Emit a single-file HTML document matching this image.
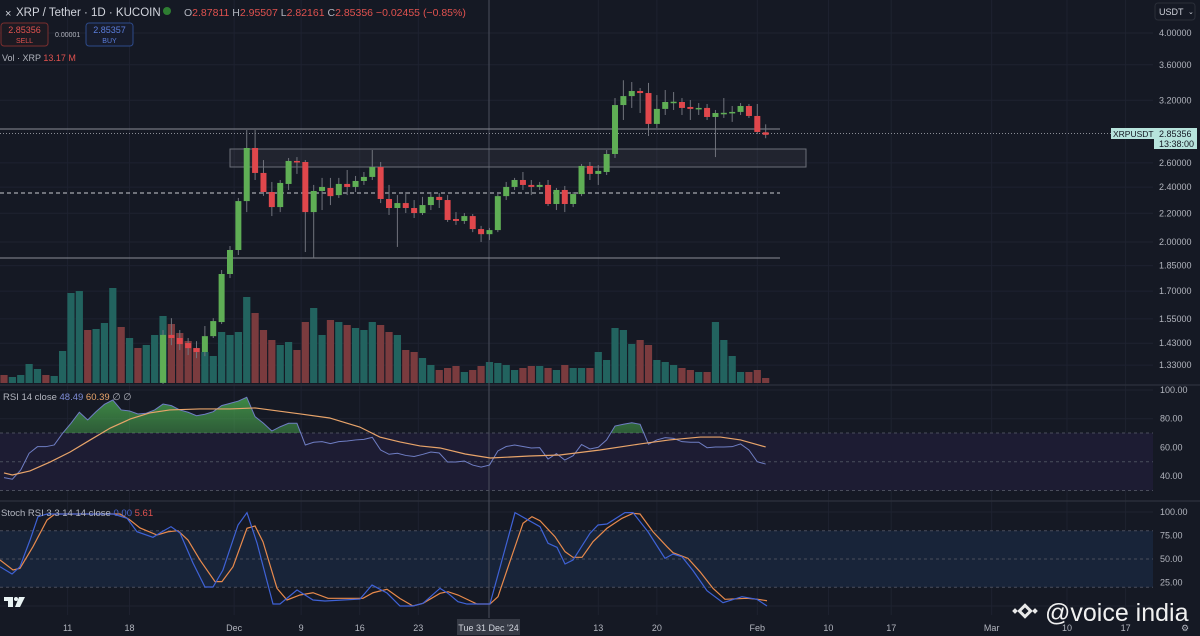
<!DOCTYPE html>
<html><head><meta charset="utf-8"><style>
html,body{margin:0;padding:0;background:#151924;width:1200px;height:636px;overflow:hidden}
svg{display:block;font-family:"Liberation Sans",sans-serif}
</style></head><body>
<svg id="c" width="1200" height="636" viewBox="0 0 1200 636">
<defs>
<linearGradient id="gf" x1="0" y1="0" x2="0" y2="1"><stop offset="0" stop-color="#4caf50" stop-opacity="0.75"/><stop offset="1" stop-color="#4caf50" stop-opacity="0.05"/></linearGradient>
<clipPath id="cp"><rect x="0" y="0" width="1153" height="384"/></clipPath>
<clipPath id="c70"><rect x="0" y="386" width="1153" height="47"/></clipPath>
</defs>
<rect x="0" y="0" width="1200" height="636" fill="#151924"/>
<g id="grid"></g>
<g id="bands"></g>
<g id="vol" clip-path="url(#cp)"></g>
<g id="draw"></g>
<g id="candles" clip-path="url(#cp)"></g>
<g id="rsi"></g>
<g id="stoch"></g>
<g id="axes"></g>
<!-- header -->
<g>
<text x="5" y="17" fill="#d1d4dc" font-size="11">×</text>
<text x="16" y="16" fill="#d1d4dc" font-size="11.5">XRP / Tether · 1D · KUCOIN</text>
<circle cx="167" cy="11" r="4" fill="#2e7d32"/>
<text x="184" y="16" font-size="10.5"><tspan fill="#b2b5be">O</tspan><tspan fill="#e0524f">2.87811</tspan><tspan fill="#b2b5be"> H</tspan><tspan fill="#e0524f">2.95507</tspan><tspan fill="#b2b5be"> L</tspan><tspan fill="#e0524f">2.82161</tspan><tspan fill="#b2b5be"> C</tspan><tspan fill="#e0524f">2.85356 −0.02455 (−0.85%)</tspan></text>
</g>
<g><rect x="1" y="23" width="47" height="23" rx="3" fill="#1c1a22" stroke="#7a2e2e"/><text x="24.5" y="33" font-size="9" fill="#e0524f" text-anchor="middle">2.85356</text><text x="24.5" y="43" font-size="7" fill="#e0524f" text-anchor="middle">SELL</text></g>
<text x="55" y="37" font-size="7" fill="#b2b5be">0.00001</text>
<g><rect x="86" y="23" width="47" height="23" rx="3" fill="#171c2c" stroke="#2d4a8a"/><text x="109.5" y="33" font-size="9" fill="#5b7ddb" text-anchor="middle">2.85357</text><text x="109.5" y="43" font-size="7" fill="#5b7ddb" text-anchor="middle">BUY</text></g>
<text x="2" y="61" font-size="9"><tspan fill="#b2b5be">Vol · XRP </tspan><tspan fill="#e0524f"> 13.17 M</tspan></text>
<text x="3" y="400" font-size="9.5"><tspan fill="#b2b5be">RSI 14 close </tspan><tspan fill="#7e8cd6"> 48.49 </tspan><tspan fill="#e8a46a">60.39 </tspan><tspan fill="#b2b5be">∅ ∅</tspan></text>
<text x="1" y="516" font-size="9.5"><tspan fill="#b2b5be">Stoch RSI 3 3 14 14 close </tspan><tspan fill="#4a64c8"> 0.00 </tspan><tspan fill="#e0524f">5.61</tspan></text>
<g><rect x="1155" y="3" width="40" height="17" rx="3" fill="#151924" stroke="#2a2e39"/><text x="1159" y="15" font-size="9" fill="#d1d4dc">USDT</text><text x="1188" y="14" font-size="7" fill="#d1d4dc">⌄</text></g>
<g fill="#e9f3f3"><rect x="4" y="597" width="9" height="4"/><rect x="8" y="597" width="5" height="10"/><circle cx="16" cy="599" r="2"/><polygon points="19,597 25,597 20,607 15,607"/></g>
<g><g transform="translate(1025,611)" fill="#e8e8e8"><rect x="-4" y="-4" width="8" height="8" transform="rotate(45)" fill="none" stroke="#e8e8e8" stroke-width="3"/><rect x="-12" y="-2" width="4" height="4" transform="rotate(45 -10 0)"/><rect x="8" y="-2" width="4" height="4" transform="rotate(45 10 0)"/></g><text x="1045" y="621" font-size="25" fill="#f0f0f0">@voice india</text></g>
</svg>
<script>
// ---------- data ----------
const candleOpen=[0.52,0.51,0.53,0.55,0.58,0.62,0.60,0.64,0.70,0.78,0.88,0.82,0.95,1.05,1.15,1.08,1.12,1.10,1.14,
1.254,1.470,1.455,1.431,1.407,1.389,1.464,1.534,1.799,1.948,2.291,2.732,2.515,2.361,2.246,2.425,2.617,2.608,2.209,2.369,2.393,2.337,2.425,2.401,2.449,2.482,2.565,2.307,2.239,2.276,2.239,2.202,2.261,2.323,2.299,2.159,2.145,2.180,2.088,2.053,2.081,2.329,2.401,2.457,2.417,2.401,2.417,2.269,2.377,2.269,2.345,2.574,2.507,2.523,2.678,3.150,3.245,3.300,3.278,2.959,3.110,3.182,3.182,3.130,3.110,3.120,3.028,3.068,3.068,3.079,3.140,3.038,2.878];
const candleHigh=[0.54,0.54,0.56,0.59,0.63,0.64,0.65,0.72,0.80,0.90,0.92,0.97,1.07,1.18,1.17,1.15,1.14,1.16,1.22,
1.494,1.554,1.494,1.455,1.440,1.514,1.554,1.823,1.974,2.315,2.900,2.900,2.625,2.441,2.457,2.643,2.651,2.625,2.417,2.474,2.474,2.474,2.540,2.490,2.523,2.714,2.608,2.417,2.337,2.361,2.299,2.323,2.361,2.353,2.337,2.209,2.202,2.195,2.110,2.096,2.345,2.441,2.474,2.523,2.457,2.441,2.457,2.393,2.409,2.361,2.591,2.608,2.582,2.714,3.224,3.420,3.400,3.333,3.390,3.256,3.311,3.289,3.224,3.203,3.171,3.161,3.099,3.224,3.140,3.171,3.161,3.161,2.955];
const candleLow=[0.49,0.49,0.51,0.53,0.56,0.58,0.58,0.62,0.68,0.76,0.80,0.80,0.92,1.02,1.05,1.05,1.06,1.07,1.10,
1.225,1.421,1.398,1.375,1.361,1.370,1.455,1.524,1.775,1.916,2.209,2.457,2.331,2.180,2.209,2.377,2.507,1.935,1.897,2.224,2.261,2.315,2.337,2.361,2.417,2.457,2.276,2.188,1.968,2.202,2.166,2.188,2.224,2.239,2.138,2.117,2.124,2.067,2.000,2.014,2.067,2.299,2.377,2.377,2.337,2.377,2.254,2.224,2.209,2.246,2.329,2.457,2.417,2.498,2.643,2.998,3.120,3.068,2.843,2.919,3.048,3.099,3.048,2.998,3.048,2.998,2.651,3.018,2.979,3.048,3.018,2.862,2.822];
const candleClose=[0.51,0.53,0.55,0.58,0.62,0.60,0.64,0.70,0.78,0.88,0.82,0.95,1.05,1.15,1.08,1.12,1.10,1.14,1.18,
1.470,1.455,1.426,1.407,1.389,1.464,1.539,1.799,1.948,2.291,2.732,2.515,2.361,2.246,2.433,2.617,2.608,2.209,2.369,2.401,2.329,2.425,2.401,2.449,2.482,2.565,2.307,2.239,2.276,2.239,2.202,2.261,2.323,2.299,2.152,2.145,2.180,2.088,2.053,2.081,2.329,2.401,2.457,2.417,2.401,2.417,2.269,2.377,2.269,2.345,2.574,2.507,2.532,2.678,3.150,3.245,3.300,3.278,2.959,3.110,3.182,3.185,3.120,3.110,3.120,3.028,3.068,3.070,3.079,3.140,3.038,2.881,2.854];
const volumeM=[16,12,16,38,28,16,14,64,180,184,106,108,120,190,112,90,70,76,96,134,118,100,84,70,62,54,102,96,102,172,140,106,86,76,82,66,122,150,96,126,122,116,110,106,122,116,102,96,66,62,50,36,26,30,34,22,26,34,42,40,36,26,30,34,34,30,26,36,30,30,30,62,46,110,106,78,86,76,46,42,36,30,26,22,22,122,86,54,22,22,26,10];
const rsiValues=[38.9,37.8,44.3,55.9,60.5,60.5,61.7,69.8,76.8,84.5,79.1,84.9,90.0,93.0,86.1,85.4,83.3,83.8,86.1,90.2,89.1,86.1,84.5,82.1,83.1,84.9,89.1,90.7,92.3,94.9,81.4,76.8,71.4,74.4,76.8,76.8,61.7,63.6,64.0,62.6,64.0,64.5,65.2,65.6,67.0,58.2,55.2,55.9,54.4,53.7,55.1,56.8,56.1,49.8,49.8,50.5,47.7,46.3,47.7,57.5,60.6,61.7,60.6,59.6,59.8,51.9,55.7,51.2,54.2,62.0,58.9,60.1,65.2,74.9,76.1,77.2,76.1,62.2,65.2,66.8,66.3,64.0,63.6,63.6,59.8,60.3,60.3,60.5,62.4,58.2,50.0,48.4];
const rsiMaIdx=[0,1,3.1,5.5,7.9,10.3,12.7,15.1,17.4,19.8,23.4,27,30,31.8,35.4,38.9,42.5,44.9,47.3,49.7,52.1,55.1,58.1,62.8,66.4,71.2,76,79.5,83.2,85.6,88,91];
const rsiMaVal=[42.2,40.8,43.6,49.8,56.8,65.2,73.5,79.8,84.0,86.1,86.8,86.8,87.5,86.1,83.3,80.5,74.2,67.2,63.8,61.0,59.6,55.4,52.6,54.0,54.7,58.2,62.4,65.2,67.2,67.2,65.2,60.3];
const stochKIdx=[-0.48,0.96,1.91,3.11,4.06,5.14,13.02,14.70,15.89,17.80,18.88,19.95,21.03,22.58,24.01,24.97,26.16,27.96,29.03,30.23,32.14,32.97,35.01,36.92,38.35,42.53,43.97,45.76,47.31,48.86,50.06,52.09,53.05,54.24,55.32,58.06,61.05,64.04,65.0,66.07,67.03,67.98,70.01,70.97,72.04,74.19,75.15,76.94,78.97,79.93,81.0,82.32,83.99,85.90,88.17,89.96,91.16];
const stochKVal=[41.8,34.0,41.8,70.2,95.0,97.9,97.9,93.3,79.0,73.1,79.0,84.4,77.7,45.7,20.2,20.2,38.3,86.2,99.3,67.0,2.1,2.1,17.0,6.4,5.3,7.4,22.3,13.8,0,0,2.9,18.8,13.5,4.6,2.1,2.1,99.3,84.4,66.7,62.4,44.7,48.9,77.3,86.2,87.2,99.3,99.3,79.0,50.7,55.3,52.4,37.6,16.3,3.5,9.9,7.1,0];
const stochDIdx=[-0.48,1.08,1.91,3.46,5.14,6.09,13.86,15.05,16.25,18.28,19.59,20.79,21.98,23.42,25.21,26.04,27.36,29.03,29.99,30.94,32.62,33.81,35.36,36.92,38.71,42.89,44.09,45.76,47.31,48.86,50.06,52.09,53.05,54.24,56.51,58.06,59.02,60.10,62.01,63.08,64.04,65.83,67.03,67.98,69.06,70.37,72.04,73.84,75.15,75.99,77.54,79.21,79.93,81.72,83.15,84.71,86.14,88.77,90.08,91.16];
const stochDVal=[48.9,38.3,40.1,63.1,91.5,97.9,97.9,91.5,83.0,75.5,79.0,80.1,70.2,48.9,25.9,25.9,41.8,82.7,85.1,68.4,18.8,6.4,11.7,14.1,8.2,8.2,14.1,17.8,8.0,0,2.9,13.5,15.2,11.7,2.1,2.1,9.9,38.3,88.0,95.0,90.7,73.7,57.8,51.8,51.8,68.4,82.7,93.3,98.6,97.9,79.0,63.1,56.7,50.7,36.5,18.8,7.1,8.2,7.1,5.6];
const priceTicks=["4.00000","3.60000","3.20000","2.60000","2.40000","2.20000","2.00000","1.85000","1.70000","1.55000","1.43000","1.33000"];
const rsiTicks=["100.00","80.00","60.00","40.00"];
const stochTicks=["100.00","75.00","50.00","25.00"];
const dateLabels=["11","18","Dec","9","16","23","13","20","Feb","10","17","Mar","10","17"];
const dateIdx=[7.6,15,27.5,35.5,42.5,49.5,71,78,90,98.5,106,118,127,134];
// ---------- scales ----------
const NS="http://www.w3.org/2000/svg";
const xS=i=>4+i*8.37;
const yP=p=>33+(Math.log(4)-Math.log(p))*301.6;
const yV=v=>383-v/2;
const yR=v=>390+(100-v)*1.435;
const yK=v=>512+(100-v)*0.94;
function mk(parent,tag,attrs){const e=document.createElementNS(NS,tag);for(const k in attrs)e.setAttribute(k,attrs[k]);document.getElementById(parent).appendChild(e);return e;}
// grid
dateIdx.forEach((d,k)=>{const l=mk('grid','line',{x1:xS(d),x2:xS(d),y1:0,y2:615,stroke:'#1e2230','stroke-width':1});

});
priceTicks.forEach(t=>{const l=mk('grid','line',{x1:0,x2:1153,y1:yP(+t),y2:yP(+t),stroke:'#1e2230'});

});
[100,80,60,40].forEach(v=>{const l=mk('grid','line',{x1:0,x2:1153,y1:yR(v),y2:yR(v),stroke:'#1e2230'});

});
[100,75,50,25,0].forEach(v=>{const l=mk('grid','line',{x1:0,x2:1153,y1:yK(v),y2:yK(v),stroke:'#1e2230'});

});
// pane separators
[385,501].forEach(y=>{const l=mk('grid','line',{x1:0,x2:1200,y1:y,y2:y,stroke:'#2a2e39','stroke-width':1.5});

});
// bands
let b=mk('bands','rect',{x:0,y:yR(70),width:1153,height:yR(30)-yR(70),fill:'#1d1c33'});


b=mk('bands','rect',{x:0,y:yK(80),width:1153,height:yK(20)-yK(80),fill:'#182439'});


[[yR,70],[yR,50],[yR,30],[yK,80],[yK,50],[yK,20]].forEach(([f,v])=>{const l=mk('bands','line',{x1:0,x2:1153,y1:f(v),y2:f(v),stroke:'#4a4e5c','stroke-dasharray':'3 3'});

});
// crosshair vertical
let ch=mk('draw','line',{x1:489,x2:489,y1:0,y2:618,stroke:'#4a4e5c','stroke-width':1});


// volume
volumeM.forEach((v,i)=>{const up=candleClose[i]>=candleOpen[i];
const r=mk('vol','rect',{x:xS(i)-3.6,y:yV(v),width:7.2,height:383-yV(v),fill:up?'#22635f':'#7a3b3e'});

});
// drawings
const dl=(a,n)=>{const l=mk('draw','line',a);};
dl({x1:0,x2:780,y1:129,y2:129,stroke:'#8a8d96','stroke-width':1},'resistance-line');
dl({x1:0,x2:780,y1:193,y2:193,stroke:'#c9cbd1','stroke-width':1,'stroke-dasharray':'4 3'},'dashed-level-line');
dl({x1:0,x2:780,y1:258,y2:258,stroke:'#8a8d96','stroke-width':1},'support-line');
dl({x1:0,x2:1111,y1:133.5,y2:133.5,stroke:'#8a8d96','stroke-width':1,'stroke-dasharray':'1 2'},'last-price-line');
let zr=mk('draw','rect',{x:230,y:149,width:576,height:18,fill:'rgba(120,123,134,0.12)',stroke:'#6b6e78','stroke-width':1});


// candles
candleOpen.forEach((o,i)=>{const c=candleClose[i],up=c>=o,col=up?'#5fae55':'#e0474c',x=xS(i);
const w=mk('candles','line',{x1:x,x2:x,y1:yP(candleHigh[i]),y2:yP(candleLow[i]),stroke:'#70737c','stroke-width':1});


const t=Math.min(yP(o),yP(c)),h=Math.max(1.5,Math.abs(yP(o)-yP(c)));
const r=mk('candles','rect',{x:x-3,y:t,width:6,height:h,fill:col});

});
// RSI
const rp=rsiValues.map((v,i)=>xS(i)+','+yR(v)).join(' ');
let fa=mk('rsi','polygon',{points:xS(0)+','+yR(70)+' '+rp+' '+xS(rsiValues.length-1)+','+yR(70),fill:'url(#gf)','clip-path':'url(#c70)'});


let rl=mk('rsi','polyline',{points:rp,fill:'none',stroke:'#6f7ec4','stroke-width':1});


let ml=mk('rsi','polyline',{points:rsiMaIdx.map((d,k)=>xS(d)+','+yR(rsiMaVal[k])).join(' '),fill:'none',stroke:'#e8a46a','stroke-width':1.2});


// Stoch
let dline=mk('stoch','polyline',{points:stochDIdx.map((d,k)=>xS(d)+','+yK(stochDVal[k])).join(' '),fill:'none',stroke:'#e88a4c','stroke-width':1.2});


let kline=mk('stoch','polyline',{points:stochKIdx.map((d,k)=>xS(d)+','+yK(stochKVal[k])).join(' '),fill:'none',stroke:'#3f62d6','stroke-width':1.2});


// axes labels
const tx=(x,y,s,n,anchor,fill,fs)=>{const t=mk('axes','text',{x:x,y:y,'font-size':fs||9,fill:fill||'#b2b5be','text-anchor':anchor||'start'});t.textContent=s;return t;};
priceTicks.forEach(t=>tx(1159,yP(+t)+3,t,'price-tick'));
rsiTicks.forEach(t=>tx(1160,yR(+t)+3,t,'rsi-tick'));
stochTicks.forEach(t=>tx(1160,yK(+t)+3,t,'stoch-tick'));
dateLabels.forEach((s,k)=>tx(xS(dateIdx[k]),631,s,'date-tick','middle'));
let lb=mk('axes','rect',{x:1111,y:128,width:43,height:11,fill:'#b7e3dc'});


tx(1113,137,'XRPUSDT','symbol-tag-text','start','#131722',8.5);
let pb=mk('axes','rect',{x:1154,y:128,width:43,height:21,fill:'#b7e3dc'});


tx(1159,137,'2.85356','last-price-text','start','#131722');
tx(1159,147,'13:38:00','countdown-text','start','#131722');
let db=mk('axes','rect',{x:457,y:619,width:63,height:16,fill:'#363a45'});


tx(488.5,631,"Tue 31 Dec '24",'crosshair-date-text','middle','#d1d4dc');
tx(1185,631,'⚙','settings-icon','middle');
</script>
</body></html>
